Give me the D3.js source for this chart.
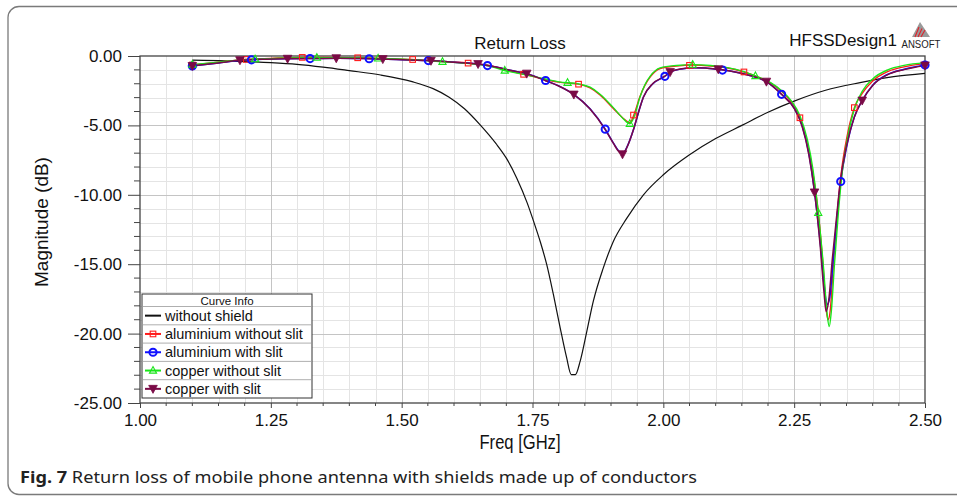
<!DOCTYPE html>
<html>
<head>
<meta charset="utf-8">
<script src="https://cdn.jsdelivr.net/npm/d3@7"></script>
<style>
  body { margin: 0; background: #fff; }
  text { font-family: "Liberation Sans", Arial, sans-serif; }
  text.cap { font-family: "Noto Sans", sans-serif; }
</style>
</head>
<body>
<div id="chart"></div>
<script>
const width = 957,
  height = 501;

// ---- data: [freq GHz, dB] ----
const withoutShield = [
  [1.10, -0.30], [1.15, -0.34], [1.20, -0.40], [1.25, -0.48], [1.30, -0.60],
  [1.35, -0.80], [1.40, -1.05], [1.46, -1.37], [1.52, -1.85], [1.56, -2.35],
  [1.59, -2.95], [1.62, -3.80], [1.65, -4.96], [1.68, -6.30], [1.70, -7.36],
  [1.72, -8.80], [1.74, -10.6], [1.752, -11.9], [1.765, -13.4], [1.777, -15.0],
  [1.79, -17.2], [1.803, -19.6], [1.815, -21.7], [1.824, -22.95], [1.832, -22.95],
  [1.841, -22.0], [1.854, -19.8], [1.866, -17.7], [1.885, -15.3], [1.904, -13.4],
  [1.93, -11.7], [1.962, -10.0], [2.00, -8.56], [2.05, -7.12], [2.10, -5.95],
  [2.15, -5.00], [2.20, -4.05], [2.25, -3.25], [2.31, -2.47], [2.376, -1.92],
  [2.44, -1.49], [2.50, -1.25]
];

const aluNoSlit = [
  [1.10, -0.65], [1.15, -0.45], [1.20, -0.25], [1.25, -0.17], [1.31, -0.10],
  [1.36, -0.10], [1.42, -0.13], [1.47, -0.18], [1.52, -0.25], [1.58, -0.40],
  [1.63, -0.52], [1.67, -0.70], [1.70, -1.02], [1.733, -1.32], [1.77, -1.65],
  [1.80, -1.88], [1.838, -2.03], [1.86, -2.30], [1.879, -2.80], [1.904, -3.76],
  [1.923, -4.48], [1.936, -4.80], [1.945, -4.10], [1.955, -2.95], [1.965, -2.10],
  [1.975, -1.50], [1.994, -0.90], [2.025, -0.72], [2.057, -0.66], [2.09, -0.72],
  [2.12, -0.85], [2.154, -1.15], [2.18, -1.50], [2.205, -1.95], [2.226, -2.55],
  [2.245, -3.35], [2.261, -4.45], [2.275, -6.30], [2.286, -8.50], [2.296, -11.2],
  [2.305, -15.0], [2.312, -18.5], [2.315, -19.0], [2.319, -18.3], [2.325, -15.0],
  [2.332, -11.5], [2.34, -8.40], [2.35, -6.00], [2.365, -3.72], [2.38, -2.70],
  [2.40, -1.80], [2.43, -1.10], [2.46, -0.78], [2.50, -0.55]
];

const cuNoSlit = [
  [1.10, -0.62], [1.15, -0.44], [1.20, -0.26], [1.25, -0.19], [1.31, -0.12],
  [1.36, -0.12], [1.42, -0.14], [1.47, -0.19], [1.52, -0.26], [1.58, -0.42],
  [1.63, -0.55], [1.67, -0.74], [1.70, -1.08], [1.733, -1.32], [1.77, -1.62],
  [1.80, -1.86], [1.838, -2.01], [1.86, -2.25], [1.879, -2.75], [1.904, -3.70],
  [1.923, -4.50], [1.936, -4.88], [1.945, -4.30], [1.955, -3.00], [1.965, -2.05],
  [1.975, -1.45], [1.994, -0.86], [2.025, -0.68], [2.057, -0.62], [2.09, -0.68],
  [2.12, -0.82], [2.154, -1.12], [2.18, -1.50], [2.205, -1.92], [2.226, -2.50],
  [2.245, -3.25], [2.261, -4.30], [2.275, -6.00], [2.286, -8.20], [2.296, -11.3],
  [2.306, -15.2], [2.313, -18.6], [2.317, -19.5], [2.321, -18.4], [2.327, -15.0],
  [2.334, -11.5], [2.342, -8.30], [2.352, -5.90], [2.367, -3.60], [2.38, -2.55],
  [2.40, -1.65], [2.43, -0.98], [2.46, -0.68], [2.50, -0.48]
];

const aluSlit = [
  [1.10, -0.72], [1.15, -0.50], [1.19, -0.32], [1.24, -0.23], [1.28, -0.20],
  [1.33, -0.18], [1.38, -0.16], [1.44, -0.20], [1.49, -0.25], [1.55, -0.33],
  [1.60, -0.45], [1.646, -0.57], [1.68, -0.80], [1.71, -1.05], [1.739, -1.27],
  [1.776, -1.78], [1.80, -2.15], [1.83, -2.80], [1.86, -3.80], [1.889, -5.27],
  [1.905, -6.30], [1.915, -6.85], [1.922, -7.05], [1.93, -6.60], [1.943, -5.30],
  [1.953, -4.00], [1.962, -2.95], [1.98, -2.00], [2.002, -1.49], [2.014, -1.15],
  [2.035, -0.93], [2.06, -0.85], [2.08, -0.87], [2.105, -0.97], [2.13, -1.10],
  [2.16, -1.35], [2.197, -1.85], [2.226, -2.76], [2.25, -3.75], [2.265, -5.00],
  [2.278, -7.00], [2.289, -9.83], [2.30, -13.5], [2.308, -16.8], [2.313, -17.9],
  [2.318, -17.4], [2.325, -14.5], [2.332, -11.6], [2.339, -9.04], [2.35, -6.60],
  [2.365, -4.40], [2.38, -3.21], [2.40, -2.10], [2.427, -1.35], [2.46, -0.95],
  [2.50, -0.65]
];

const cuSlit = [
  [1.10, -0.72], [1.15, -0.50], [1.19, -0.31], [1.24, -0.23], [1.28, -0.20],
  [1.33, -0.18], [1.38, -0.16], [1.44, -0.20], [1.49, -0.25], [1.55, -0.33],
  [1.60, -0.45], [1.646, -0.58], [1.68, -0.80], [1.71, -1.05], [1.739, -1.27],
  [1.776, -1.80], [1.80, -2.16], [1.83, -2.80], [1.86, -3.82], [1.889, -5.30],
  [1.905, -6.32], [1.915, -6.90], [1.922, -7.08], [1.93, -6.62], [1.943, -5.30],
  [1.953, -4.00], [1.962, -2.95], [1.98, -1.98], [2.002, -1.47], [2.014, -1.13],
  [2.035, -0.92], [2.06, -0.84], [2.08, -0.86], [2.105, -0.96], [2.13, -1.10],
  [2.16, -1.35], [2.197, -1.85], [2.226, -2.78], [2.25, -3.78], [2.265, -5.05],
  [2.278, -7.10], [2.289, -9.83], [2.30, -13.8], [2.307, -17.0], [2.311, -18.4],
  [2.316, -17.6], [2.323, -14.6], [2.331, -11.6], [2.338, -9.10], [2.35, -6.50],
  [2.365, -4.40], [2.38, -3.21], [2.40, -2.12], [2.427, -1.38], [2.46, -0.98],
  [2.50, -0.68]
];

// marker positions (freq) for each series
const aluNoSlitMarks = [1.10, 1.203, 1.31, 1.416, 1.521, 1.627, 1.733, 1.838, 1.943, 2.05, 2.154, 2.261, 2.365];
const aluSlitMarks = [1.10, 1.213, 1.325, 1.438, 1.551, 1.664, 1.775, 1.889, 2.003, 2.113, 2.226, 2.339, 2.50];
const cuNoSlitMarks = [1.10, 1.22, 1.338, 1.455, 1.578, 1.697, 1.817, 1.936, 2.056, 2.176, 2.296];
const cuSlitMarks = [1.10, 1.191, 1.282, 1.375, 1.464, 1.556, 1.646, 1.739, 1.829, 1.922, 2.013, 2.105, 2.197, 2.289, 2.38, 2.50];

const freqTicks = [1.0, 1.25, 1.5, 1.75, 2.0, 2.25, 2.5];
const magTicks = [0, -5, -10, -15, -20, -25];
const seriesNames = ["without shield", "aluminium without slit", "aluminium with slit", "copper without slit", "copper with slit"];

// ---- layout ----
const plot = { left: 140, right: 925, top: 56, bottom: 403 };

const x = d3.scaleLinear().domain([1, 2.5]).range([plot.left, plot.right]);
const y = d3.scaleLinear().domain([-25, 0]).range([plot.bottom, plot.top]);

const svg = d3
  .select("#chart")
  .append("svg")
  .attr("width", width)
  .attr("height", height);

// outer rounded panel
svg
  .append("rect")
  .attr("x", 8)
  .attr("y", 6.5)
  .attr("width", 1000)
  .attr("height", 488)
  .attr("rx", 11)
  .attr("fill", "none")
  .attr("stroke", "#7a7a7a")
  .attr("stroke-width", 1.3);

// grid
const grid = svg.append("g");
const minorX = d3.range(1.05, 2.5, 0.05).filter((v) => Math.abs(v / 0.25 - Math.round(v / 0.25)) > 0.01);
const minorY = d3.range(-1, -25, -1).filter((v) => v % 5 !== 0);
grid
  .selectAll(".mx")
  .data(minorX)
  .enter()
  .append("line")
  .attr("x1", (d) => Math.round(x(d)) + 0.5)
  .attr("x2", (d) => Math.round(x(d)) + 0.5)
  .attr("y1", plot.top)
  .attr("y2", plot.bottom)
  .attr("stroke", "#e4e4e4");
grid
  .selectAll(".my")
  .data(minorY)
  .enter()
  .append("line")
  .attr("y1", (d) => Math.round(y(d)) + 0.5)
  .attr("y2", (d) => Math.round(y(d)) + 0.5)
  .attr("x1", plot.left)
  .attr("x2", plot.right)
  .attr("stroke", "#e4e4e4");
grid
  .selectAll(".Mx")
  .data(freqTicks.slice(1, -1))
  .enter()
  .append("line")
  .attr("x1", (d) => Math.round(x(d)) + 0.5)
  .attr("x2", (d) => Math.round(x(d)) + 0.5)
  .attr("y1", plot.top)
  .attr("y2", plot.bottom)
  .attr("stroke", "#c4c4c4");
grid
  .selectAll(".My")
  .data(magTicks.slice(1, -1))
  .enter()
  .append("line")
  .attr("y1", (d) => Math.round(y(d)) + 0.5)
  .attr("y2", (d) => Math.round(y(d)) + 0.5)
  .attr("x1", plot.left)
  .attr("x2", plot.right)
  .attr("stroke", "#c4c4c4");

// frame
svg
  .append("rect")
  .attr("x", plot.left)
  .attr("y", plot.top)
  .attr("width", plot.right - plot.left)
  .attr("height", plot.bottom - plot.top)
  .attr("fill", "none")
  .attr("stroke", "#444")
  .attr("stroke-width", 1.3);

// axes (hyphen minus, like the original)
const fmt = (d) => d.toFixed(2);
const xAxis = d3.axisBottom(x).tickValues(freqTicks).tickFormat(fmt).tickSize(5).tickPadding(6);
const gx = svg.append("g").attr("transform", `translate(0,${plot.bottom})`).call(xAxis);
gx.select(".domain").remove();
gx.selectAll("text").attr("font-size", 17).attr("fill", "#111");
gx.selectAll("line").attr("stroke", "#444");
svg
  .append("g")
  .selectAll("line")
  .data(minorX)
  .enter()
  .append("line")
  .attr("x1", (d) => x(d))
  .attr("x2", (d) => x(d))
  .attr("y1", plot.bottom)
  .attr("y2", plot.bottom + 3)
  .attr("stroke", "#444");

const yAxis = d3.axisLeft(y).tickValues(magTicks).tickFormat(fmt).tickSize(12).tickPadding(6);
const gy = svg.append("g").attr("transform", `translate(${plot.left},0)`).call(yAxis);
gy.select(".domain").remove();
gy.selectAll("text").attr("font-size", 17).attr("fill", "#111");
gy.selectAll("line").attr("stroke", "#444");
svg
  .append("g")
  .selectAll("line")
  .data(minorY)
  .enter()
  .append("line")
  .attr("y1", (d) => y(d))
  .attr("y2", (d) => y(d))
  .attr("x1", plot.left - 6)
  .attr("x2", plot.left)
  .attr("stroke", "#444");

// axis titles
svg
  .append("text")
  .attr("x", 520)
  .attr("y", 449)
  .attr("text-anchor", "middle")
  .attr("font-size", 20)
  .attr("textLength", 81)
  .attr("lengthAdjust", "spacingAndGlyphs")
  .attr("fill", "#111")
  .text("Freq [GHz]");
svg
  .append("text")
  .attr("transform", "translate(48,222) rotate(-90)")
  .attr("text-anchor", "middle")
  .attr("font-size", 19)
  .attr("fill", "#111")
  .text("Magnitude (dB)");

// titles
svg
  .append("text")
  .attr("x", 520)
  .attr("y", 49)
  .attr("text-anchor", "middle")
  .attr("font-size", 17)
  .attr("fill", "#111")
  .text("Return Loss");
svg
  .append("text")
  .attr("x", 897)
  .attr("y", 46)
  .attr("text-anchor", "end")
  .attr("font-size", 17)
  .attr("fill", "#111")
  .text("HFSSDesign1");

// ANSOFT logo
const logo = svg.append("g").attr("transform", "translate(911,22)");
logo.append("path").attr("d", "M9,0 L19,15 L1,15 Z").attr("fill", "#9a9a9a");
[0, 3, 6].forEach(function (o) {
  logo
    .append("line")
    .attr("x1", 4 + o)
    .attr("y1", 15)
    .attr("x2", 8 + o)
    .attr("y2", 5 + o * 0.5)
    .attr("stroke", "#e0202a")
    .attr("stroke-width", 1.1);
});
logo
  .append("text")
  .attr("x", 10)
  .attr("y", 26)
  .attr("text-anchor", "middle")
  .attr("font-size", 10)
  .attr("textLength", 39)
  .attr("lengthAdjust", "spacingAndGlyphs")
  .attr("fill", "#222")
  .text("ANSOFT");

// curves
const line = d3
  .line()
  .x((d) => x(d[0]))
  .y((d) => y(d[1]))
  .curve(d3.curveMonotoneX);

function valueAt(data, f) {
  const i = d3.bisector((d) => d[0]).left(data, f);
  if (i <= 0) return data[0][1];
  if (i >= data.length) return data[data.length - 1][1];
  const a = data[i - 1],
    b = data[i];
  return a[1] + ((b[1] - a[1]) * (f - a[0])) / (b[0] - a[0]);
}

const series = [
  { name: seriesNames[0], data: withoutShield, color: "#111", width: 1.2, marks: [], shape: null },
  { name: seriesNames[1], data: aluNoSlit, color: "#ff1a1a", width: 1.4, marks: aluNoSlitMarks, shape: "square" },
  { name: seriesNames[2], data: aluSlit, color: "#1010ff", width: 1.5, marks: aluSlitMarks, shape: "circle" },
  { name: seriesNames[3], data: cuNoSlit, color: "#19e619", width: 1.4, marks: cuNoSlitMarks, shape: "tri" },
  { name: seriesNames[4], data: cuSlit, color: "#7a0a46", width: 1.5, marks: cuSlitMarks, shape: "down" }
];

function drawMarker(g, shape, color, cx, cy) {
  if (shape === "square") {
    g.append("rect")
      .attr("x", cx - 2.8)
      .attr("y", cy - 2.8)
      .attr("width", 5.6)
      .attr("height", 5.6)
      .attr("fill", "none")
      .attr("stroke", color)
      .attr("stroke-width", 1.1);
  } else if (shape === "circle") {
    g.append("circle")
      .attr("cx", cx)
      .attr("cy", cy)
      .attr("r", 3.6)
      .attr("fill", "none")
      .attr("stroke", color)
      .attr("stroke-width", 2);
  } else if (shape === "tri") {
    g.append("path")
      .attr("d", `M${cx},${cy - 4} L${cx + 3.6},${cy + 2.6} L${cx - 3.6},${cy + 2.6} Z`)
      .attr("fill", "none")
      .attr("stroke", color)
      .attr("stroke-width", 1.1);
  } else if (shape === "down") {
    g.append("path")
      .attr("d", `M${cx - 4.3},${cy - 3.5} L${cx + 4.3},${cy - 3.5} L${cx},${cy + 4.5} Z`)
      .attr("fill", color)
      .attr("stroke", color)
      .attr("stroke-width", 0.8);
  }
}

const curves = svg.append("g");
series.forEach(function (s) {
  curves
    .append("path")
    .datum(s.data)
    .attr("d", line)
    .attr("fill", "none")
    .attr("stroke", s.color)
    .attr("stroke-width", s.width)
    .attr("stroke-linejoin", "round");
});
series.forEach(function (s) {
  const g = curves.append("g");
  s.marks.forEach(function (f) {
    drawMarker(g, s.shape, s.color, x(f), y(valueAt(s.data, f)));
  });
});

// legend
const lg = svg.append("g").attr("transform", "translate(142,294)");
const rowH = 18.3,
  headH = 12.5;
lg.append("rect")
  .attr("width", 170)
  .attr("height", headH + rowH * series.length)
  .attr("fill", "#fff")
  .attr("stroke", "#333")
  .attr("stroke-width", 1);
lg.append("text")
  .attr("x", 85)
  .attr("y", 10.5)
  .attr("text-anchor", "middle")
  .attr("font-size", 11.5)
  .attr("fill", "#111")
  .text("Curve Info");
series.forEach(function (s, i) {
  const top = headH + i * rowH;
  lg.append("line")
    .attr("x1", 0)
    .attr("x2", 170)
    .attr("y1", top)
    .attr("y2", top)
    .attr("stroke", "#9a9a9a")
    .attr("stroke-width", 0.8);
  const cy = top + rowH / 2;
  lg.append("line")
    .attr("x1", 3)
    .attr("x2", 19)
    .attr("y1", cy)
    .attr("y2", cy)
    .attr("stroke", s.color)
    .attr("stroke-width", 2);
  if (s.shape) drawMarker(lg, s.shape, s.color, 11, cy);
  lg.append("text")
    .attr("x", 23)
    .attr("y", cy + 5)
    .attr("font-size", 14.5)
    .attr("fill", "#111")
    .text(s.name);
});

// caption
const cap = svg
  .append("text")
  .attr("class", "cap")
  .attr("x", 20)
  .attr("y", 483)
  .attr("font-size", 16)
  .attr("fill", "#222")
  .attr("textLength", 677)
  .attr("lengthAdjust", "spacingAndGlyphs");
cap.append("tspan").attr("font-weight", "bold").text("Fig. 7");
cap.append("tspan").text("  Return loss of mobile phone antenna with shields made up of conductors");
</script>
</body>
</html>
